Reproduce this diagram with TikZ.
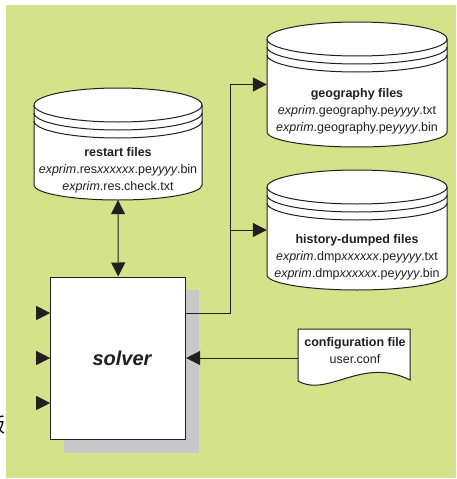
\documentclass[tikz,border=0pt]{standalone}
\usepackage{fontspec}
\setmainfont{Liberation Sans}
\newfontfamily\cjkfont{Noto Sans CJK SC}
\usetikzlibrary{arrows.meta}
\definecolor{bggreen}{RGB}{212,226,138}
\definecolor{ink}{RGB}{35,31,32}
\definecolor{shadowgray}{RGB}{200,200,202}
\newcommand\dbcyl[6]{%
  \pgfmathsetmacro\cylrx{(#2-#1)/2}%
  \filldraw[fill=white,draw=ink,line width=1pt] (#1,#3) arc[start angle=180,end angle=360,x radius=\cylrx,y radius=#5] -- (#2,#4) arc[start angle=0,end angle=180,x radius=\cylrx,y radius=#6] -- cycle;
  \foreach \off in {0,8,16}{\draw[ink,line width=1pt] (#1,#3+\off) arc[start angle=180,end angle=0,x radius=\cylrx,y radius=#5];}
}
\begin{document}
\begin{tikzpicture}[x=1pt,y=-1pt,
  txt/.style={inner sep=0pt,align=center,text=ink,font=\fontsize{12.5}{17}\selectfont},
  ghost/.style={inner sep=0pt,minimum width=#1},
  arr/.style={draw=ink,line width=1pt,-{Triangle[length=14pt,width=14pt]}},
  dblarr/.style={draw=ink,line width=1pt,{Triangle[length=14pt,width=14pt]}-{Triangle[length=14pt,width=14pt]}}]
\useasboundingbox (0,0) rectangle (456,479);
\begin{scope}
  \clip (0,0) rectangle (5.5,479);
  \node[anchor=east,inner sep=0pt,font=\cjkfont\fontsize{20}{20}\selectfont] (cut) at (5.8,425) {版};
\end{scope}
\fill[bggreen] (5.5,5) rectangle (456,478);
% cylinders
\dbcyl{34}{202}{105}{185}{17}{15}
\dbcyl{267}{447}{39}{132}{17}{15}
\dbcyl{267}{447}{187}{275}{17}{15}
\node[inner sep=0pt,minimum width=168pt,minimum height=112pt] (restart) at (118,144) {};
\node[inner sep=0pt,minimum width=180pt,minimum height=125pt] (geo) at (357,84.5) {};
\node[inner sep=0pt,minimum width=180pt,minimum height=120pt] (hist) at (357,230) {};
\node[txt] (restarttxt) at (118,170) {\textbf{restart files}\\\textit{exprim}.res\textit{xxxxxx}.pe\textit{yyyy}.bin\\\textit{exprim}.res.check.txt};
\node[txt] (geotxt) at (357,111) {\textbf{geography files}\\\textit{exprim}.geography.pe\textit{yyyy}.txt\\\textit{exprim}.geography.pe\textit{yyyy}.bin};
\node[txt] (histtxt) at (357,257) {\textbf{history-dumped files}\\\textit{exprim}.dmp\textit{xxxxxx}.pe\textit{yyyy}.txt\\\textit{exprim}.dmp\textit{xxxxxx}.pe\textit{yyyy}.bin};
% solver
\fill[shadowgray] (64,290) rectangle (199,453);
\node[draw=ink,fill=white,line width=1pt,minimum width=135pt,minimum height=162pt,inner sep=0pt] (solver) at (118.2,358) {};
\node[inner sep=0pt,text=ink,font=\fontsize{20}{24}\selectfont\bfseries\itshape] (solvertxt) at (122,358) {solver};
% configuration file
\filldraw[fill=white,draw=ink,line width=1pt] (298,381) -- (298,329) -- (410,329) -- (410,380) .. controls (362,356) and (328,398) .. (298,381) -- cycle;
\node[inner sep=0pt,minimum width=112pt,minimum height=52pt] (conf) at (354,355) {};
\node[txt] (conftxt) at (355,351) {\textbf{configuration file}\\user.conf};
% connectors
\draw[dblarr] (restart.south) -- (solver.north);
\coordinate (out) at (185.7,313);
\coordinate (bend) at (230,313);
\draw[arr] (out) -- (bend) |- (geo.west);
\draw[arr] (bend |- hist.west) -- (hist.west);
\draw[arr] (conf.west |- solver.east) -- (solver.east);
\coordinate (in1) at (36,313);
\coordinate (in2) at (36,358);
\coordinate (in3) at (36,403);
\draw[arr] (in1) -- (in1 -| solver.west);
\draw[arr] (in2) -- (in2 -| solver.west);
\draw[arr] (in3) -- (in3 -| solver.west);
\end{tikzpicture}
\end{document}
